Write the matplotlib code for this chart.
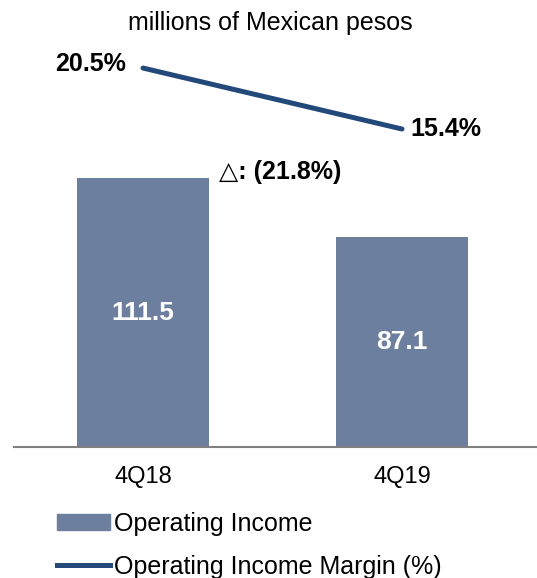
import matplotlib
matplotlib.use("Agg")
import matplotlib.pyplot as plt
from matplotlib.patches import Patch
from matplotlib.lines import Line2D

plt.rcParams['font.family'] = ['Liberation Sans', 'DejaVu Sans']

quarters = ["4Q18", "4Q19"]
income = [111.5, 87.1]
margin = [20.5, 15.4]
change_label = "△: (21.8%)"

bar_color = '#6d7f9f'
line_color = '#23497b'

fig = plt.figure(figsize=(5.37, 5.78), dpi=100)
ax = fig.add_axes([14/537, 131/578, 523/537, 447/578])

x = range(len(quarters))
w = 0.513
bars = ax.bar(x, income, width=w, color=bar_color, zorder=2)
for b, v in zip(bars, income):
    ax.text(b.get_x() + b.get_width()/2, v/2, f"{v:.1f}", ha='center', va='center',
            color='white', fontsize=19, fontweight='bold')

ax.set_xlim(-0.498, 1.521)
ax.set_ylim(0, 185.3)
ax.set_xticks(list(x))
ax.set_xticklabels(quarters, fontsize=17)
ax.tick_params(axis='x', length=0, pad=14)
ax.set_yticks([])
for s in ['top', 'right', 'left']:
    ax.spines[s].set_visible(False)
ax.spines['bottom'].set_color('#808080')
ax.spines['bottom'].set_linewidth(1.5)

ax2 = ax.twinx()
ax2.set_ylim(-11.19, 26.19)
ax2.plot(list(x), margin, color=line_color, lw=3.6, solid_capstyle='round', zorder=3)
ax2.axis('off')
ax2.annotate(f"{margin[0]}%", (0, margin[0]), xytext=(-12, 3), textcoords='offset points',
             ha='right', va='center', fontsize=18, fontweight='bold')
ax2.annotate(f"{margin[1]}%", (1, margin[1]), xytext=(6, 0), textcoords='offset points',
             ha='left', va='center', fontsize=18, fontweight='bold')

ax.annotate(change_label, (0 + w/2, income[0]), xytext=(7, 4), textcoords='offset points',
            ha='left', va='center', fontsize=18, fontweight='bold')

fig.text(270/537, 1 - 23/578, "millions of Mexican pesos", ha='center', va='center', fontsize=18)

handles = [Patch(color=bar_color), Line2D([], [], color=line_color, lw=3.6)]
fig.legend(handles, ["Operating Income", "Operating Income Margin (%)"],
           loc='upper left', bbox_to_anchor=(57/537, 1 - 512/578), frameon=False,
           fontsize=18, handlelength=2.1, handleheight=0.6, handletextpad=0.2,
           labelspacing=0.75, borderpad=0, borderaxespad=0)

fig.savefig("out.png", dpi=100)
